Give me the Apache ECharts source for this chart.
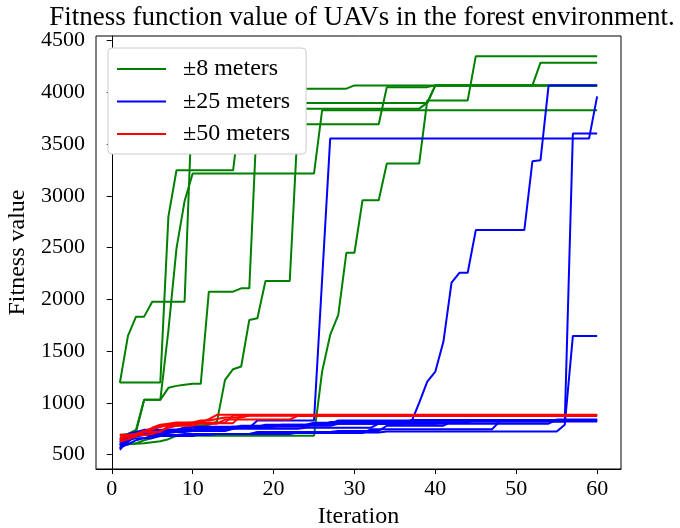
<!DOCTYPE html>
<html><head><meta charset="utf-8">
<script src="https://cdn.jsdelivr.net/npm/echarts@6/dist/echarts.min.js"></script>
<style>html,body{margin:0;padding:0;background:#fff}#c{width:680px;height:528px}</style>
</head><body><div id="c"></div>
<script>
const iterations = [1,2,3,4,5,6,7,8,9,10,11,12,13,14,15,16,17,18,19,20,21,22,23,24,25,26,27,28,29,30,
  31,32,33,34,35,36,37,38,39,40,41,42,43,44,45,46,47,48,49,50,51,52,53,54,55,56,57,58,59,60];
const xTicks = [0,10,20,30,40,50,60];
const yTicks = [500,1000,1500,2000,2500,3000,3500,4000,4500];
const groupNames = ['±8 meters','±25 meters','±50 meters'];

// ±8 meters runs
const green1 = [1194,1648,1834,1834,1978,1978,1978,1978,1978,4036,
  4036,4036,4036,4036,4036,4036,4036,4036,4036,4036,
  4036,4036,4036,4036,4036,4036,4036,4036,4036,4068,
  4068,4068,4068,4068,4068,4068,4068,4068,4068,4068,
  4068,4068,4068,4068,4068,4068,4068,4068,4068,4068,
  4068,4068,4287,4287,4287,4287,4287,4287,4287,4287];
const green2 = [1197,1197,1197,1197,1197,1197,2800,3248,3248,3248,
  3248,3248,3248,3248,3248,3897,3897,3897,3897,3897,
  3897,3897,3897,3897,3897,3897,3897,3897,3897,3897,
  3897,3897,3897,3897,3897,3897,3897,3897,3897,4068,
  4068,4068,4068,4068,4068,4068,4068,4068,4068,4068,
  4068,4068,4068,4068,4068,4068,4068,4068,4068,4068];
const green3 = [690,700,740,1030,1030,1030,1146,1165,1175,1185,
  1185,2075,2075,2075,2075,2107,2107,3843,3843,3843,
  3843,3843,3843,3843,3843,3843,3843,3843,3843,3843,
  3843,3843,3843,3843,3843,3843,3843,3843,3900,4068,
  4068,4068,4068,4068,4068,4068,4068,4068,4068,4068,
  4068,4068,4068,4068,4068,4068,4068,4068,4068,4068];
const green4 = [600,600,610,640,660,700,720,740,760,770,
  780,790,820,1223,1326,1352,1802,1818,2178,2178,
  2178,2178,3692,3692,3692,3692,3692,3692,3692,3692,
  3692,3692,3692,4051,4051,4051,4051,4051,4051,4068,
  4068,4068,4068,4068,4068,4068,4068,4068,4068,4068,
  4068,4068,4068,4068,4068,4068,4068,4068,4068,4068];
const green5 = [600,600,605,610,620,630,650,683,683,683,
  683,683,683,683,683,683,683,683,683,683,
  683,683,683,683,683,1303,1657,1850,2451,2451,
  2959,2959,2959,3313,3313,3313,3313,3313,3923,3923,
  3923,3923,3923,3923,4350,4350,4350,4350,4350,4350,
  4350,4350,4350,4350,4350,4350,4350,4350,4350,4350];
const green6 = [660,680,720,1030,1030,1030,1700,2493,2950,3216,
  3216,3216,3216,3216,3216,3216,3216,3216,3216,3216,
  3216,3216,3216,3216,3216,3827,3827,3827,3827,3827,
  3827,3827,3827,3827,3827,3827,3827,3827,3827,3827,
  3827,3827,3827,3827,3827,3827,3827,3827,3827,3827,
  3827,3827,3827,3827,3827,3827,3827,3827,3827,3827];

// ±25 meters runs
const blue1 = [548,640,680,690,700,700,710,720,730,740,
  750,750,750,750,750,770,770,770,770,770,
  790,790,790,790,810,810,810,810,810,810,
  810,810,810,810,810,810,810,1000,1207,1303,
  1593,2162,2258,2258,2670,2670,2670,2670,2670,2670,
  2670,3335,3345,4068,4068,4068,4068,4068,4068,4068];
const blue2 = [600,660,700,710,720,730,730,730,730,730,
  760,760,760,760,760,760,760,830,830,830,
  830,830,830,830,830,2190,3554,3554,3554,3554,
  3554,3554,3554,3554,3554,3554,3554,3554,3554,3554,
  3554,3554,3554,3554,3554,3554,3554,3554,3554,3554,
  3554,3554,3554,3554,3554,3554,3554,3554,3554,3962];
const blue3 = [570,600,640,660,680,690,690,690,690,690,
  690,690,700,700,700,700,700,700,700,700,
  700,700,715,715,715,715,715,715,715,715,
  715,715,715,725,725,725,725,725,725,725,
  725,725,725,725,725,725,725,725,725,725,
  725,725,725,725,725,790,1648,1648,1648,1648];
const blue4 = [650,690,720,740,740,740,740,740,760,760,
  760,760,760,760,760,780,780,780,780,780,
  780,780,780,780,780,780,780,800,800,800,
  800,800,800,800,800,800,800,800,800,800,
  820,820,820,820,820,820,820,820,820,820,
  820,820,820,820,820,820,3602,3602,3602,3602];
const blue5 = [590,650,700,710,720,720,720,740,740,740,
  740,760,760,760,760,760,760,760,760,780,
  780,780,780,780,800,800,800,830,830,830,
  830,830,830,830,830,830,830,830,830,830,
  830,830,830,830,830,830,830,830,830,830,
  830,830,830,830,830,830,830,830,830,830];
const blue6 = [620,700,720,720,720,720,720,720,720,730,
  730,730,730,730,750,750,750,750,750,750,
  750,750,750,760,760,760,760,760,760,760,
  760,760,800,800,800,800,800,800,800,800,
  800,800,800,800,800,800,800,800,800,800,
  800,800,800,800,840,840,840,840,840,840];
const blue7 = [640,660,680,690,690,690,690,690,700,700,
  700,700,700,700,700,700,700,720,720,720,
  720,720,720,720,720,720,720,730,730,730,
  730,730,730,780,780,780,780,780,780,780,
  780,820,820,820,820,820,820,820,820,820,
  820,820,820,820,820,820,820,820,820,820];
const blue8 = [560,680,700,710,710,710,740,740,740,740,
  740,740,740,740,770,770,770,770,770,770,
  770,770,770,770,800,800,800,800,800,800,
  800,800,800,800,800,800,835,835,835,835,
  835,835,835,835,835,835,835,835,835,835,
  835,835,835,835,835,835,835,835,835,835];
const blue9 = [610,640,660,660,660,680,680,680,680,680,
  700,700,700,700,700,700,700,700,700,700,
  710,710,710,710,710,710,710,710,710,710,
  710,745,745,745,745,745,745,745,745,745,
  745,745,745,745,745,745,745,825,825,825,
  825,825,825,825,825,825,825,825,825,825];
const blue10 = [580,620,690,730,730,730,730,730,730,770,
  770,770,770,770,770,770,770,770,790,790,
  790,790,790,790,790,790,815,815,815,815,
  815,815,815,815,815,815,815,815,815,815,
  815,815,815,815,830,830,830,830,830,830,
  830,830,830,830,830,830,830,830,830,830];

// ±50 meters runs
const red1 = [628,650,677,720,760,789,800,811,811,811,
  811,844,886,886,886,886,886,886,886,886,
  886,886,886,886,886,886,886,886,886,886,
  886,886,886,886,886,886,886,886,886,886,
  886,886,886,886,886,886,886,886,886,886,
  886,886,886,886,886,886,886,886,886,886];
const red2 = [693,693,700,720,745,770,790,800,805,811,
  830,830,845,860,860,860,878,878,878,878,
  878,878,878,878,878,878,878,878,878,878,
  878,878,878,878,878,878,878,878,878,878,
  878,878,878,878,878,878,878,878,878,878,
  878,878,878,878,878,878,878,878,878,878];
const red3 = [680,690,690,690,700,730,760,780,790,805,
  805,805,805,805,805,882,882,882,882,882,
  882,882,882,882,882,882,882,882,882,882,
  882,882,882,882,882,882,882,882,882,882,
  882,882,882,882,882,882,882,882,882,882,
  882,882,882,882,882,882,882,882,882,882];
const red4 = [660,670,700,730,750,770,790,790,790,800,
  800,800,800,840,840,840,840,840,840,840,
  840,840,875,875,875,875,875,875,875,875,
  875,875,875,875,875,875,875,875,875,875,
  875,875,875,875,875,875,875,875,875,875,
  875,875,875,875,875,875,875,875,875,875];
const red5 = [640,680,700,720,720,720,780,780,780,780,
  810,810,810,810,880,880,880,880,880,880,
  880,880,880,880,880,880,880,880,880,880,
  880,880,880,880,880,880,880,880,880,880,
  880,880,880,880,880,880,880,880,880,880,
  880,880,880,880,880,880,880,880,880,880];

const groups = [
  [green1, green2, green3, green4, green5, green6],
  [blue1, blue2, blue3, blue4, blue5, blue6, blue7, blue8, blue9, blue10],
  [red1, red2, red3, red4, red5]
];
const colors = ['#008000', '#0000ff', '#ff0000'];
const FONT = "'Liberation Serif', 'DejaVu Serif', serif";

const series = [];
groups.forEach((runs, g) => {
  runs.forEach(run => {
    series.push({
      name: groupNames[g],
      type: 'line',
      showSymbol: false,
      symbol: 'none',
      animation: false,
      color: colors[g],
      lineStyle: { width: 2, color: colors[g] },
      emphasis: { disabled: true },
      data: iterations.map((x, i) => [x, run[i]])
    });
  });
});

const chart = echarts.init(document.getElementById('c'), null, { renderer: 'canvas' });
chart.setOption({
  animation: false,
  backgroundColor: '#fff',
  title: {
    text: 'Fitness function value of UAVs in the forest environment.',
    left: 357, top: -1, textAlign: 'center',
    textStyle: { fontFamily: FONT, fontSize: 27, fontWeight: 'normal', color: '#000' }
  },
  grid: { left: 96, right: 59, top: 36, bottom: 59, containLabel: false, outerBoundsMode: 'none',
          show: true, borderColor: '#000', borderWidth: 1, backgroundColor: 'transparent' },
  legend: {
    data: groupNames,
    orient: 'vertical',
    left: 108, top: 48,
    padding: [9, 16, 8, 9],
    itemGap: 8.5,
    itemWidth: 49, itemHeight: 2,
    icon: 'rect',
    backgroundColor: '#fff',
    borderColor: '#cccccc', borderWidth: 1, borderRadius: 4,
    textStyle: { fontFamily: FONT, fontSize: 24, color: '#000', lineHeight: 22, padding: [0, 0, 0, 12] },
    selectedMode: false
  },
  xAxis: {
    type: 'value', min: -1.95, max: 62.95,
    name: 'Iteration', nameLocation: 'middle', nameGap: 35,
    nameTextStyle: { fontFamily: FONT, fontSize: 24, color: '#000' },
    axisLine: { show: true, lineStyle: { color: '#000', width: 1 } },
    axisTick: { show: true, inside: false, length: 5, lineStyle: { color: '#000' }, customValues: xTicks },
    axisLabel: { fontFamily: FONT, fontSize: 22, color: '#000', margin: 9, customValues: xTicks, formatter: v => String(v) },
    splitLine: { show: false }
  },
  yAxis: {
    type: 'value', min: 362, max: 4545,
    name: 'Fitness value', nameLocation: 'middle', nameGap: 54,
    nameTextStyle: { fontFamily: FONT, fontSize: 24, color: '#000' },
    axisLine: { show: true, lineStyle: { color: '#000', width: 1 } },
    axisTick: { show: true, inside: false, length: 5, lineStyle: { color: '#000' }, customValues: yTicks },
    axisLabel: { fontFamily: FONT, fontSize: 22, color: '#000', margin: 11, customValues: yTicks, formatter: v => String(v) },
    splitLine: { show: false }
  },
  series: series
});
</script>
</body></html>
